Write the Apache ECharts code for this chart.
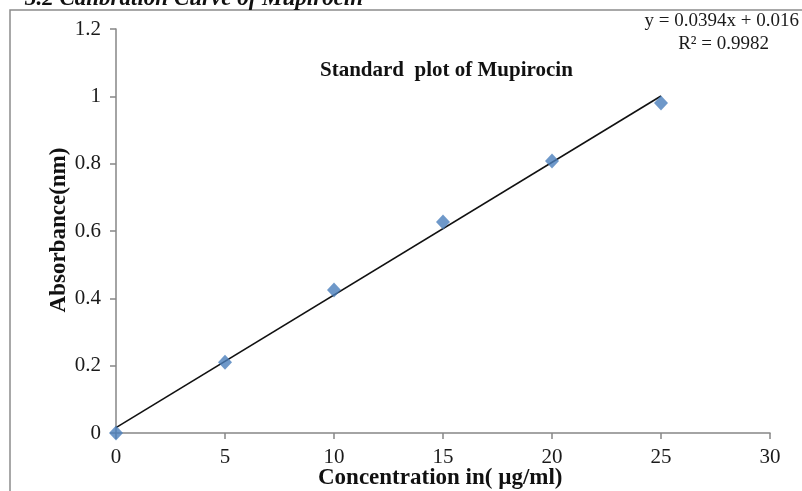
<!DOCTYPE html>
<html>
<head>
<meta charset="utf-8">
<script src="https://cdn.jsdelivr.net/npm/echarts@6/dist/echarts.min.js"></script>
<style>
  html, body { margin: 0; padding: 0; background: #fff; }
  #chart { width: 802px; height: 491px; }
</style>
</head>
<body>
<div id="chart"></div>
<script>
// Standard concentrations (µg/ml) and measured absorbance
const concentrations = [0, 5, 10, 15, 20, 25];
const absorbance = [0, 0.21, 0.425, 0.627, 0.808, 0.98];

// Linear fit reported on the chart
const slope = 0.0394;
const intercept = 0.016;
const rSquared = 0.9982;

const xTicks = [0, 5, 10, 15, 20, 25, 30];
const yTicks = [0, 0.2, 0.4, 0.6, 0.8, 1, 1.2];

const points = concentrations.map((c, i) => [c, absorbance[i]]);
const fitStart = concentrations[0];
const fitEnd = concentrations[concentrations.length - 1];
const fitLine = [
  [fitStart, slope * fitStart + intercept],
  [fitEnd, slope * fitEnd + intercept]
];

const serif = '"Liberation Serif", "Times New Roman", serif';
const chart = echarts.init(document.getElementById('chart'), null, { renderer: 'canvas' });

chart.setOption({
  backgroundColor: '#ffffff',
  animation: false,
  grid: { left: 116, right: 32, top: 29, bottom: 58, containLabel: false },
  xAxis: {
    type: 'value',
    min: xTicks[0],
    max: xTicks[xTicks.length - 1],
    interval: 5,
    axisLine: { show: true, lineStyle: { color: '#868686', width: 1.5 } },
    axisTick: { show: true, inside: false, length: 6, lineStyle: { color: '#868686', width: 1.5 } },
    axisLabel: { color: '#1a1a1a', fontFamily: serif, fontSize: 21, margin: 14 },
    splitLine: { show: false }
  },
  yAxis: {
    type: 'value',
    min: yTicks[0],
    max: yTicks[yTicks.length - 1],
    interval: 0.2,
    axisLine: { show: true, lineStyle: { color: '#868686', width: 1.5 } },
    axisTick: { show: true, inside: false, length: 6, lineStyle: { color: '#868686', width: 1.5 } },
    axisLabel: {
      color: '#1a1a1a', fontFamily: serif, fontSize: 21, margin: 15,
      formatter: v => String(Math.round(v * 10) / 10)
    },
    splitLine: { show: false }
  },
  series: [
    {
      name: 'Trendline',
      type: 'line',
      data: fitLine,
      symbol: 'none',
      lineStyle: { color: '#111', width: 1.6 },
      z: 2
    },
    {
      name: 'Absorbance',
      type: 'scatter',
      data: points,
      symbol: 'diamond',
      symbolSize: [14, 15],
      itemStyle: { color: '#4A7EBB' },
      z: 3
    }
  ],
  graphic: [
    // outer frame
    {
      type: 'rect',
      shape: { x: 10, y: 10, width: 810, height: 500 },
      style: { fill: 'none', stroke: '#8c8c8c', lineWidth: 1.5 },
      z: 0
    },
    // section heading above the frame
    {
      type: 'text',
      left: 25, top: -12,
      style: {
        text: '3.2 Calibration Curve of Mupirocin',
        font: 'italic bold 23px ' + serif,
        fill: '#111'
      }
    },
    {
      type: 'text',
      left: 320, top: 60,
      style: {
        text: 'Standard  plot of Mupirocin',
        font: 'bold 21px ' + serif,
        fill: '#111'
      }
    },
    {
      type: 'text',
      right: 3, top: 12,
      style: {
        text: 'y = ' + slope + 'x + ' + intercept,
        font: '19px ' + serif,
        fill: '#1a1a1a'
      }
    },
    {
      type: 'text',
      right: 33, top: 35,
      style: {
        text: 'R² = ' + rSquared,
        font: '19px ' + serif,
        fill: '#1a1a1a'
      }
    },
    {
      type: 'text',
      left: 318, top: 467,
      style: {
        text: 'Concentration in( µg/ml)',
        font: 'bold 23px ' + serif,
        fill: '#111'
      }
    },
    {
      type: 'text',
      x: 59, y: 230,
      rotation: Math.PI / 2,
      style: {
        text: 'Absorbance(nm)',
        font: 'bold 23px ' + serif,
        fill: '#111',
        align: 'center',
        verticalAlign: 'middle'
      }
    }
  ]
});
</script>
</body>
</html>
